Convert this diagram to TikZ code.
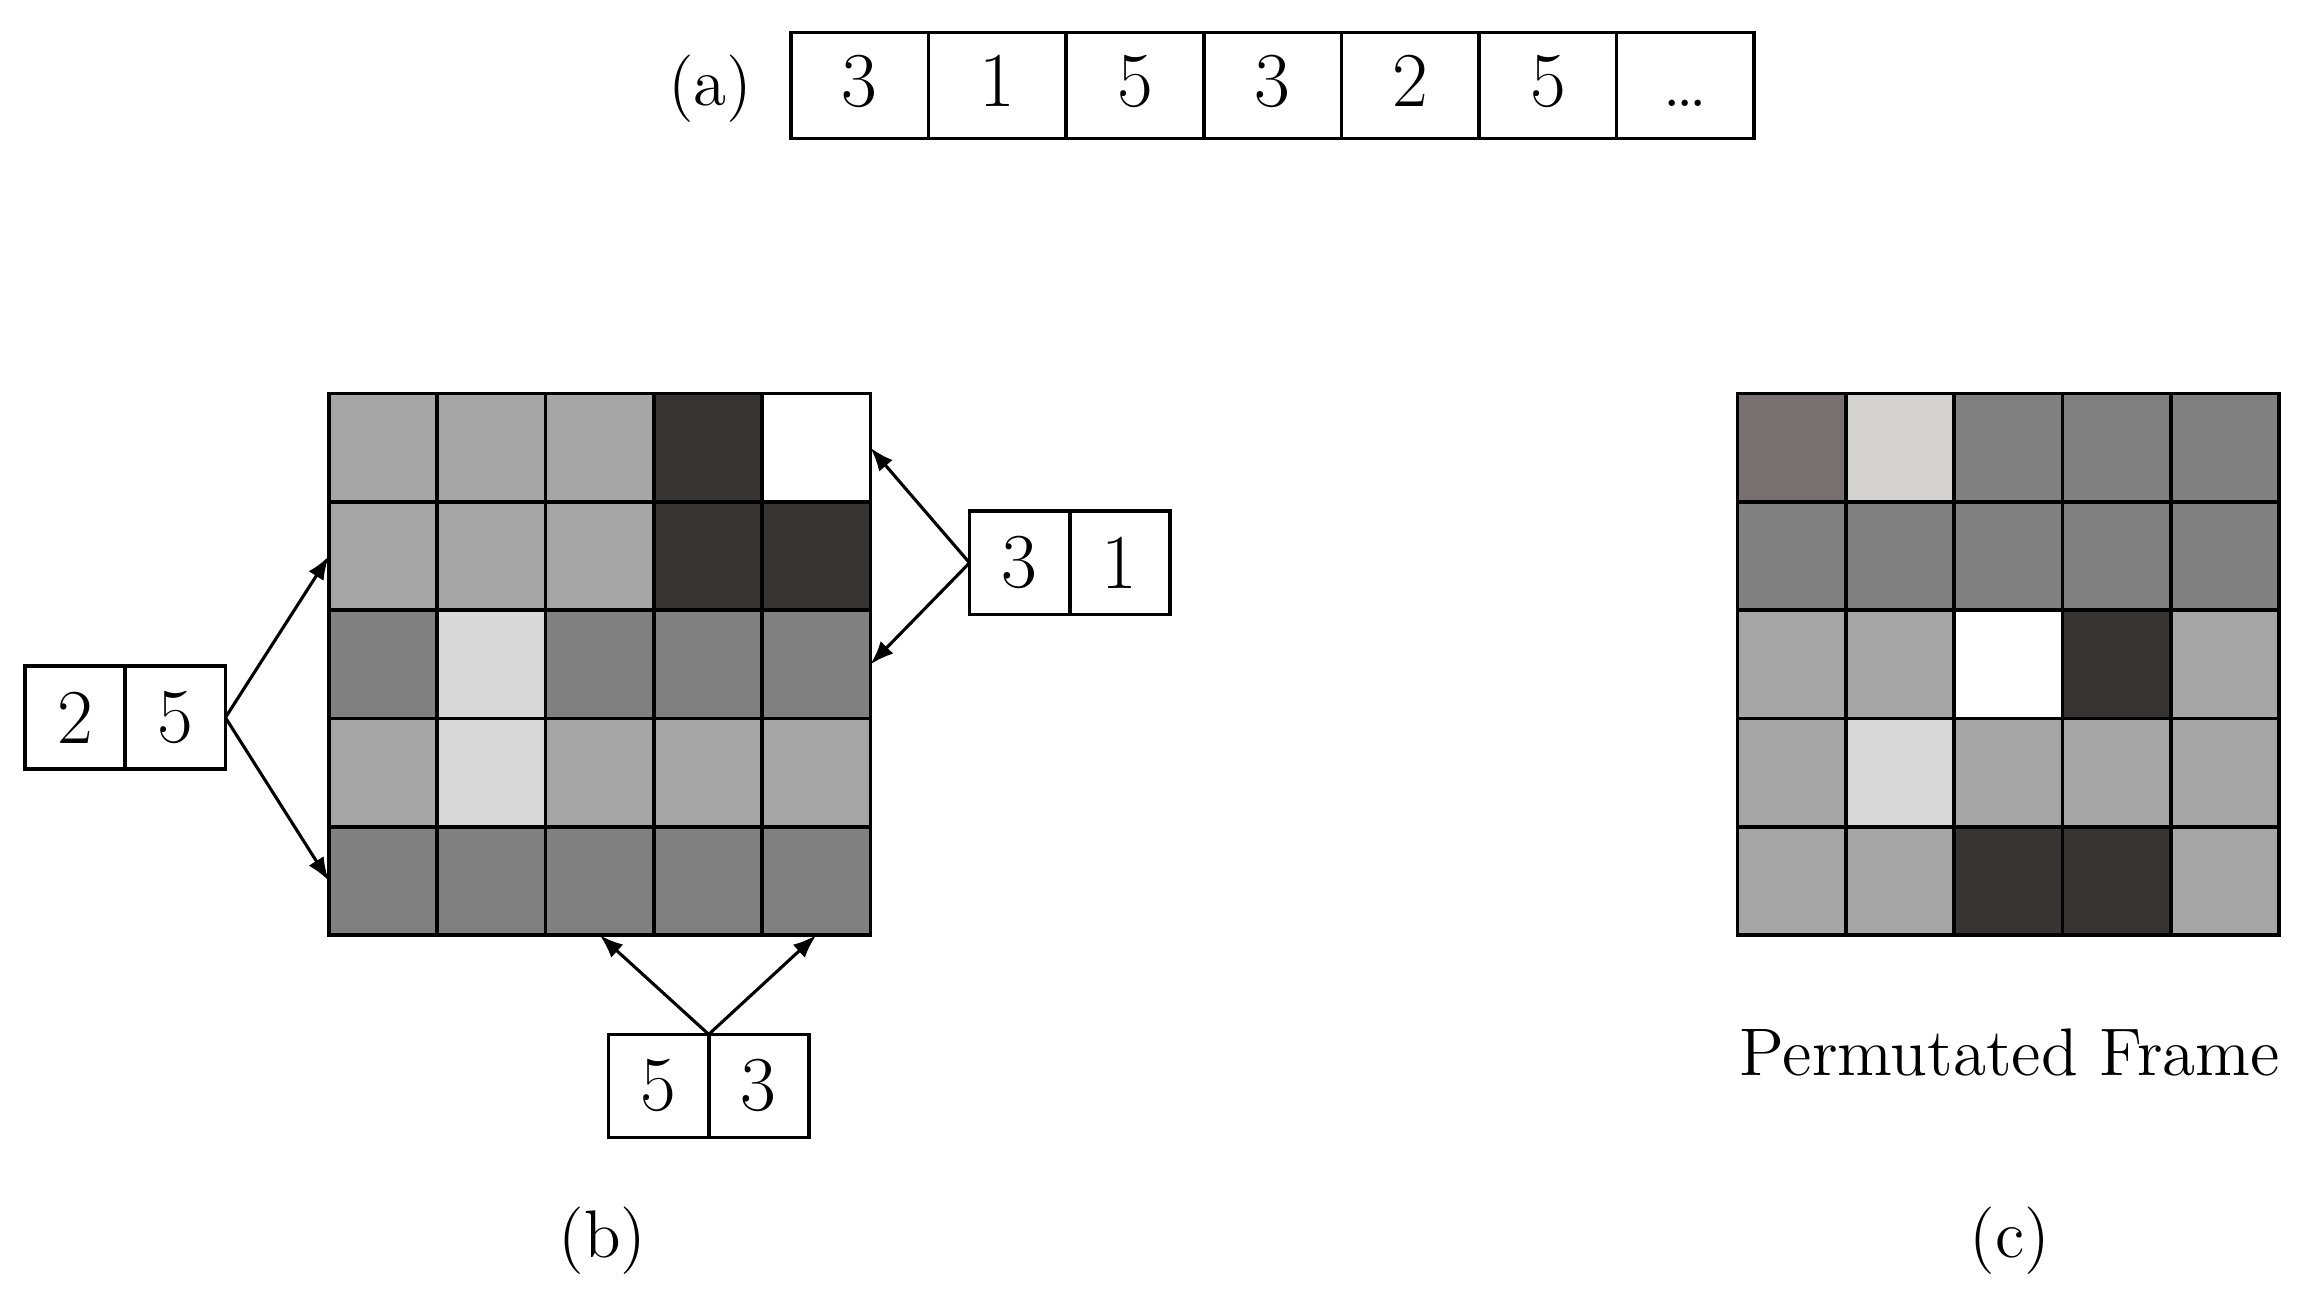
\documentclass[tikz,border=0pt]{standalone}
\usetikzlibrary{positioning,arrows.meta}
\definecolor{cellmid}{HTML}{808080}
\definecolor{celllite}{HTML}{A6A6A6}
\definecolor{cellpale}{HTML}{D9D9D9}
\definecolor{celldark}{HTML}{383434}
\definecolor{cellbrown}{HTML}{787070}
\definecolor{cellsilver}{HTML}{D3D2D0}
\tikzset{
	pix/.style={draw, line width=0.7pt, inner sep=0pt, outer sep=0pt, minimum size=0.735cm},
	seqcell/.style={draw, line width=0.7pt, inner sep=0pt, outer sep=0pt, minimum width=0.934cm, minimum height=0.72cm, text height=0.82em, text depth=0pt, font=\fontsize{15}{18}\selectfont},
	paircell/.style={draw, line width=0.7pt, inner sep=0pt, outer sep=0pt, minimum width=0.68cm, minimum height=0.70cm, font=\fontsize{15}{18}\selectfont},
	link/.style={line width=0.6pt, -{Latex[length=1.6mm,width=1.2mm]}},
	caption/.style={font=\fontsize{13}{16}\selectfont}
}
\begin{document}
\begin{tikzpicture}
			\useasboundingbox (0, 0) rectangle (15.63, 8.789);

			%%draw the sequence (a)
			\node[caption] (labela) at (4.82, 8.19){(a)};
			\node[seqcell] (s1) at (5.835, 8.209){3};
			\node[seqcell, right=0pt of s1] (s2){1};
			\node[seqcell, right=0pt of s2] (s3){5};
			\node[seqcell, right=0pt of s3] (s4){3};
			\node[seqcell, right=0pt of s4] (s5){2};
			\node[seqcell, right=0pt of s5] (s6){5};
			\node[seqcell, right=0pt of s6] (s7){\dots};

			%%draw the frame (b)
			\foreach \shade [count=\c from 0] in {celllite, celllite, celllite, celldark, white}
				\node[pix, fill=\shade] (b-0-\c) at (2.60+0.735*\c, 5.75){};
			\foreach \shade [count=\c from 0] in {celllite, celllite, celllite, celldark, celldark}
				\node[pix, fill=\shade] (b-1-\c) at (2.60+0.735*\c, 5.015){};
			\foreach \shade [count=\c from 0] in {cellmid, cellpale, cellmid, cellmid, cellmid}
				\node[pix, fill=\shade] (b-2-\c) at (2.60+0.735*\c, 4.28){};
			\foreach \shade [count=\c from 0] in {celllite, cellpale, celllite, celllite, celllite}
				\node[pix, fill=\shade] (b-3-\c) at (2.60+0.735*\c, 3.545){};
			\foreach \shade [count=\c from 0] in {cellmid, cellmid, cellmid, cellmid, cellmid}
				\node[pix, fill=\shade] (b-4-\c) at (2.60+0.735*\c, 2.81){};
				\node[caption] (labelb) at (4.09, 0.369){(b)};

			%%the pairs
			\node[paircell] (p25a) at (0.51, 3.919){2};
			\node[paircell, right=0pt of p25a] (p25b){5};
			\node[paircell] (p31a) at (6.92, 4.969){3};
			\node[paircell, right=0pt of p31a] (p31b){1};
			\node[paircell] (p53a) at (4.47, 1.419){5};
			\node[paircell, right=0pt of p53a] (p53b){3};

			%%rows 2 and 5
			\draw[link] (p25b.east) -- (b-1-0.west);
			\draw[link] (p25b.east) -- (b-4-0.west);
			%%columns 3 and 1
			\draw[link] (p31a.west) -- (b-0-4.east);
			\draw[link] (p31a.west) -- (b-2-4.east);
			%%columns 5 and 3
			\draw[link] (p53a.north east) -- (b-4-2.south);
			\draw[link] (p53a.north east) -- (b-4-4.south);

			%%draw the permutated frame (c)
			\foreach \shade [count=\c from 0] in {cellbrown, cellsilver, cellmid, cellmid, cellmid}
				\node[pix, fill=\shade] (c-0-\c) at (12.16+0.735*\c, 5.75){};
			\foreach \shade [count=\c from 0] in {cellmid, cellmid, cellmid, cellmid, cellmid}
				\node[pix, fill=\shade] (c-1-\c) at (12.16+0.735*\c, 5.015){};
			\foreach \shade [count=\c from 0] in {celllite, celllite, white, celldark, celllite}
				\node[pix, fill=\shade] (c-2-\c) at (12.16+0.735*\c, 4.28){};
			\foreach \shade [count=\c from 0] in {celllite, cellpale, celllite, celllite, celllite}
				\node[pix, fill=\shade] (c-3-\c) at (12.16+0.735*\c, 3.545){};
			\foreach \shade [count=\c from 0] in {celllite, celllite, celldark, celldark, celllite}
				\node[pix, fill=\shade] (c-4-\c) at (12.16+0.735*\c, 2.81){};
				\node[caption] (title) at (13.64, 1.649){Permutated Frame};
				\node[caption] (labelc) at (13.64, 0.369){(c)};
		\end{tikzpicture}
\end{document}
